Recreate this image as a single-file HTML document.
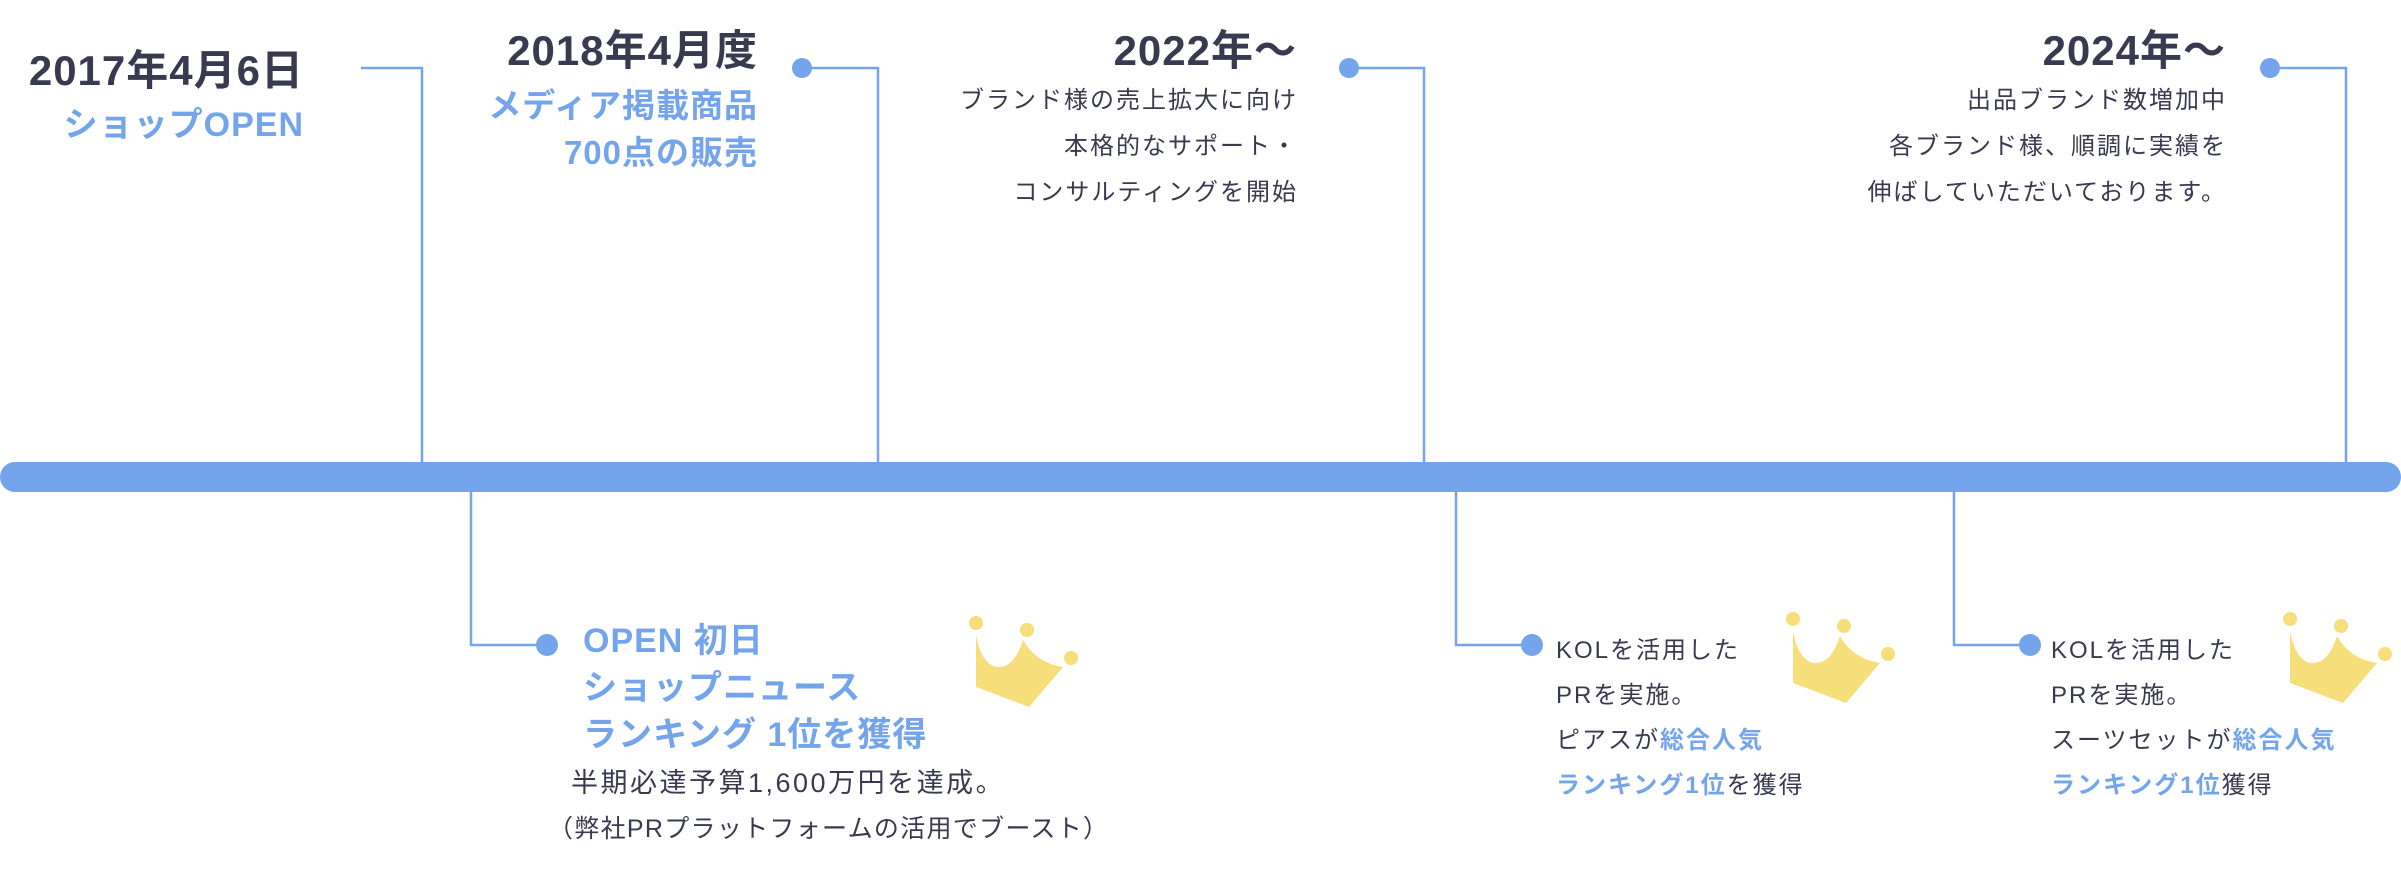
<!DOCTYPE html>
<html><head><meta charset="utf-8">
<style>
html,body{margin:0;padding:0;background:#fff;}
body{width:2401px;height:887px;position:relative;overflow:hidden;font-family:"Liberation Sans","Noto Sans CJK JP",sans-serif;}
.t{position:absolute;white-space:nowrap;}
.h{font-weight:700;color:#383a4f;font-size:42px;line-height:42px;letter-spacing:1px;}
.b{font-weight:700;color:#74a5ec;font-size:33px;line-height:33px;letter-spacing:1px;}
.bb{font-weight:700;color:#74a5ec;font-size:34px;line-height:34px;letter-spacing:1px;}
.n{font-weight:400;color:#383a4f;font-size:24px;line-height:24px;letter-spacing:2px;}
.n b{color:#74a5ec;font-weight:700;}
.r{text-align:right;}
</style></head><body>
<svg width="2401" height="887" style="position:absolute;left:0;top:0">
<defs>
<g id="crown">
<path d="M0,12 L0,64 L53,84 L87,44 Q60,40 47,17 Q38,46 20,44 Q5,40 0,12 Z" fill="#f6de7a"/>
<circle cx="0" cy="0" r="7" fill="#f6de7a"/>
<circle cx="51" cy="7" r="7" fill="#f6de7a"/>
<circle cx="95" cy="35" r="7" fill="#f6de7a"/>
</g>
</defs>
<g stroke="#74a5ec" stroke-width="2.5" fill="none">
<polyline points="361,68 422,68 422,465"/>
<polyline points="802,68 878,68 878,465"/>
<polyline points="1349,68 1424,68 1424,465"/>
<polyline points="2270,68 2346,68 2346,465"/>
<polyline points="471,490 471,645 547,645"/>
<polyline points="1456,490 1456,645 1532,645"/>
<polyline points="1954,490 1954,645 2030,645"/>
</g>
<rect x="0" y="462" width="2401" height="30" rx="15" fill="#74a5ec"/>
<g fill="#74a5ec">
<circle cx="802" cy="68" r="10"/>
<circle cx="1349" cy="68" r="10"/>
<circle cx="2270" cy="68" r="10"/>
<circle cx="547" cy="645" r="11"/>
<circle cx="1532" cy="645" r="11"/>
<circle cx="2030" cy="645" r="11"/>
</g>
<use href="#crown" x="976" y="623"/>
<use href="#crown" x="1793" y="619"/>
<use href="#crown" x="2290" y="619"/>
</svg>

<div class="t h r" style="right:2097px;top:50px">2017年4月6日</div>
<div class="t b r" style="right:2097px;top:109px;font-size:34px">ショップOPEN</div>

<div class="t h r" style="right:1643px;top:30px">2018年4月度</div>
<div class="t b r" style="right:1643px;top:89px">メディア掲載商品</div>
<div class="t b r" style="right:1643px;top:136px">700点の販売</div>

<div class="t h r" style="right:1104px;top:30px">2022年〜</div>
<div class="t n r" style="right:1103px;top:89px">ブランド様の売上拡大に向け</div>
<div class="t n r" style="right:1103px;top:135px">本格的なサポート・</div>
<div class="t n r" style="right:1103px;top:181px">コンサルティングを開始</div>

<div class="t h r" style="right:175px;top:30px">2024年〜</div>
<div class="t n r" style="right:174px;top:89px">出品ブランド数増加中</div>
<div class="t n r" style="right:174px;top:135px">各ブランド様、順調に実績を</div>
<div class="t n r" style="right:174px;top:181px">伸ばしていただいております。</div>

<div class="t bb" style="left:583px;top:624px">OPEN 初日</div>
<div class="t bb" style="left:583px;top:671px">ショップニュース</div>
<div class="t bb" style="left:583px;top:718px">ランキング 1位を獲得</div>
<div class="t n" style="left:571px;top:770px;font-size:27px;line-height:27px;letter-spacing:2.5px">半期必達予算1,600万円を達成。</div>
<div class="t n" style="left:548px;top:817px;font-size:25px;letter-spacing:1.3px">（弊社PRプラットフォームの活用でブースト）</div>

<div class="t n" style="left:1556px;top:639px">KOLを活用した</div>
<div class="t n" style="left:1556px;top:684px">PRを実施。</div>
<div class="t n" style="left:1556px;top:729px">ピアスが<b>総合人気</b></div>
<div class="t n" style="left:1556px;top:774px"><b>ランキング1位</b>を獲得</div>

<div class="t n" style="left:2051px;top:639px">KOLを活用した</div>
<div class="t n" style="left:2051px;top:684px">PRを実施。</div>
<div class="t n" style="left:2051px;top:729px">スーツセットが<b>総合人気</b></div>
<div class="t n" style="left:2051px;top:774px"><b>ランキング1位</b>獲得</div>
</body></html>
